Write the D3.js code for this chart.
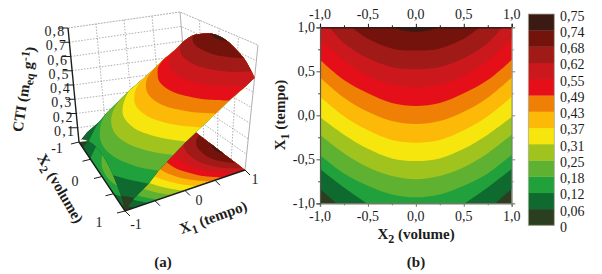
<!DOCTYPE html>
<html>
<head>
<meta charset="utf-8">
<script src="https://cdn.jsdelivr.net/npm/d3@7"></script>
<style>
  html, body { margin: 0; padding: 0; background: #fff; }
  svg { display: block; }
  text { font-family: "Liberation Serif", serif; fill: #1d1d1b; }
  .title { font-weight: bold; font-size: 15px; }
</style>
</head>
<body>
<svg id="chart" width="602" height="274"></svg>
<script>
// Contour bands, lowest to highest
const bandColors = ['#2b3f20', '#0f6a30', '#20a13c', '#5fb132', '#a0c31e', '#f6e60e', '#fdb908',
    '#f07f05', '#e50f19', '#cb181c', '#a01a18', '#74130c', '#3c1a14'];
const legendLabels = ['0,75', '0,74', '0,68', '0,62', '0,55', '0,49', '0,43', '0,37', '0,31', '0,25', '0,18', '0,12', '0,06', '0'];

// Contour lines, left half as [X2, X1]; the picture is symmetric
const levels = [0.06, 0.12, 0.18, 0.25, 0.31, 0.37, 0.43, 0.49, 0.55, 0.62, 0.68, 0.74];
const line006 = [[-1, -0.84], [-0.92, -0.91], [-0.83, -1]];
const line012 = [[-1, -0.61], [-0.75, -0.82], [-0.51, -1]];
const line018 = [[-1, -0.45], [-0.75, -0.66], [-0.5, -0.8], [-0.25, -0.9], [0, -0.932]];
const line025 = [[-1, -0.22], [-0.75, -0.43], [-0.5, -0.59], [-0.25, -0.69], [0, -0.727]];
const line031 = [[-1, -0.02], [-0.75, -0.22], [-0.5, -0.38], [-0.25, -0.49], [0, -0.519]];
const line037 = [[-1, 0.21], [-0.75, -0.01], [-0.5, -0.17], [-0.25, -0.28], [0, -0.311]];
const line043 = [[-1, 0.43], [-0.75, 0.2], [-0.5, 0.04], [-0.25, -0.065], [0, -0.098]];
const line049 = [[-1, 0.63], [-0.75, 0.4], [-0.5, 0.25], [-0.25, 0.14], [0, 0.106]];
const line055 = [[-1, 0.87], [-0.75, 0.62], [-0.5, 0.45], [-0.25, 0.35], [0, 0.318]];
const line062 = [[-0.9, 1], [-0.75, 0.82], [-0.5, 0.65], [-0.25, 0.55], [0, 0.523]];
const line068 = [[-0.67, 1], [-0.5, 0.87], [-0.25, 0.76], [0, 0.735]];
const line074 = [[-0.235, 1], [-0.12, 0.96], [0, 0.947]];
const contourLines = [line006, line012, line018, line025, line031, line037, line043, line049, line055, line062, line068, line074];

// Surface height along the X1 = 1 and X1 = -1 edges, as [X2, value]
const topEdge = [[-1, 0.59], [-0.9, 0.62], [-0.67, 0.68], [-0.235, 0.74], [0, 0.75]];
const bottomEdge = [[-1, 0], [-0.83, 0.06], [-0.51, 0.12], [-0.25, 0.15], [0, 0.16]];

// Ticks
const ticks2d = [-1, -0.5, 0, 0.5, 1];
const ticks2dLabels = ['-1,0', '-0,5', '0,0', '0,5', '1,0'];
const minorTicks2d = [-0.75, -0.25, 0.25, 0.75];
const zTicks = [0.1, 0.2, 0.3, 0.4, 0.5, 0.6, 0.7, 0.8];
const zTickLabels = ['0,1', '0,2', '0,3', '0,4', '0,5', '0,6', '0,7', '0,8'];
const ticks3d = [-1, -0.5, 0, 0.5, 1];

const svg = d3.select('#chart');

// Panel b scales
const x2Scale = d3.scaleLinear().domain([-1, 1]).range([320, 511.7]);
const x1Scale = d3.scaleLinear().domain([-1, 1]).range([203.3, 27.3]);
const legendScale = d3.scaleLinear().domain([0, bandColors.length]).range([225.3, 14]);

// Panel a: box corners in screen space (a = X2 -1 / X1 -1, b = X2 1 / X1 -1, c = X2 1 / X1 1, d = X2 -1 / X1 1)
const floorBox = { a: [79, 142], b: [125, 211], c: [245, 170], d: [190, 128] };
const topBox = { a: [68, 28], b: [123, 81], c: [258, 45], d: [180, 12] };
const unitX2 = d3.scaleLinear().domain([-1, 1]).range([0, 1]);
const unitX1 = d3.scaleLinear().domain([-1, 1]).range([0, 1]);
const unitZ = d3.scaleLinear().domain([0, 0.8]).range([0, 1]);

function project(x2, x1, z) {
    const u = unitX2(x2), v = unitX1(x1), w = unitZ(z);
    return [0, 1].map(k => {
        const low = (1 - v) * ((1 - u) * floorBox.a[k] + u * floorBox.b[k]) + v * ((1 - u) * floorBox.d[k] + u * floorBox.c[k]);
        const high = (1 - v) * ((1 - u) * topBox.a[k] + u * topBox.b[k]) + v * ((1 - u) * topBox.d[k] + u * topBox.c[k]);
        return low + (high - low) * w;
    });
}

const smooth = d3.line().curve(d3.curveCatmullRom.alpha(0.5));
const straight = d3.line();

function mirror(half) {
    const right = half.slice().reverse().filter(p => p[0] !== 0).map(p => [-p[0], ...p.slice(1)]);
    return half.concat(right);
}

// Points where the higher contour lines meet the X2 = -1 edge, going up the edge
function sideEnds(fromIndex) {
    const ends = [];
    for (let j = fromIndex; j < levels.length; j++) {
        const start = contourLines[j][0];
        if (start[0] === -1) ends.push([-1, start[1], levels[j]]);
    }
    return ends;
}

// One region "above level i" as pieces of [X2, X1, z]; i = -1 is the whole surface
function regionPieces(i) {
    const pieces = [];
    const fullTop = mirror(topEdge.map(p => [p[0], 1, p[1]])).reverse();
    const fullBottom = mirror(bottomEdge.map(p => [p[0], -1, p[1]]));
    const rightEnd = p => [-p[0], p[1], p[2]];
    let topSpan = 1;
    let curveEnd;
    if (i < 0) {
        pieces.push({ pts: fullBottom, line: smooth });
        curveEnd = fullBottom[fullBottom.length - 1];
    } else {
        const level = levels[i];
        const half = contourLines[i].map(p => [p[0], p[1], level]);
        const end = half[half.length - 1];
        if (end[1] === -1) {
            // line runs into the bottom edge, goes along it and comes back up on the right
            const span = Math.abs(end[0]);
            pieces.push({ pts: half, line: smooth });
            pieces.push({ pts: fullBottom.filter(p => Math.abs(p[0]) <= span), line: smooth });
            pieces.push({ pts: half.slice().reverse().map(rightEnd), line: smooth });
        } else {
            pieces.push({ pts: mirror(half), line: smooth });
        }
        topSpan = Math.abs(half[0][0]);
        curveEnd = rightEnd(half[0]);
    }
    const ends = sideEnds(i + 1);
    const top = fullTop.filter(p => Math.abs(p[0]) <= topSpan);
    // right side going up, top edge, then left side going down
    if (topSpan === 1) {
        pieces.push({ pts: [curveEnd].concat(ends.map(rightEnd), [top[0]]), line: straight });
    }
    pieces.push({ pts: top, line: smooth });
    if (topSpan === 1) {
        pieces.push({ pts: [top[top.length - 1]].concat(ends.slice().reverse()), line: straight });
    }
    return pieces;
}

function regionPath(i, toScreen) {
    return regionPieces(i)
        .map(piece => piece.line(piece.pts.map(p => toScreen(p[0], p[1], p[2]))))
        .map((d, k) => k === 0 ? d : 'L' + d.slice(1))
        .join('') + 'Z';
}

function drawRegions(group, toScreen) {
    group.selectAll('path')
        .data(bandColors)
        .join('path')
        .attr('d', (c, i) => regionPath(i - 1, toScreen))
        .attr('fill', c => c);
}

// ---------- Panel a ----------
const panelA = svg.append('g');
const wallGrid = panelA.append('g').attr('fill', 'none').attr('stroke', '#8d8d8d').attr('stroke-width', 0.7);

function wallLine(points, dash) {
    wallGrid.append('path')
        .attr('d', d3.line()(points.map(p => project(p[0], p[1], p[2]))))
        .attr('stroke-dasharray', dash);
}

zTicks.forEach(z => wallLine([[-1, -1, z], [-1, 1, z], [1, 1, z]], z === 0.8 ? '2,1' : '1.5,1.5'));
ticks3d.slice(1, -1).forEach(t => {
    wallLine([[-1, t, 0], [-1, t, 0.8]], '1.5,1.5');
    wallLine([[t, 1, 0], [t, 1, 0.8]], '1.5,1.5');
});
wallLine([[-1, 1, 0], [-1, 1, 0.8]], null);
wallLine([[1, 1, 0], [1, 1, 0.8]], null);

drawRegions(panelA.append('g'), (x2, x1) => project(x2, x1, 0));
drawRegions(panelA.append('g'), project);

const axisA = panelA.append('g').attr('stroke', '#1d1d1b').attr('fill', 'none');
axisA.append('path').attr('stroke-width', 1.4)
    .attr('d', d3.line()([project(-1, -1, 0), project(-1, -1, 0.8)]));
axisA.append('path').attr('stroke-width', 1.4)
    .attr('d', d3.line()([project(-1, -1, 0), project(1, -1, 0), project(1, 1, 0)]));

zTicks.forEach((z, i) => {
    const p = project(-1, -1, z);
    axisA.append('line').attr('x1', p[0] - 9).attr('y1', p[1]).attr('x2', p[0]).attr('y2', p[1]).attr('stroke-width', 1);
    panelA.append('text').attr('x', p[0] - 2.5).attr('y', p[1] + 8)
        .attr('text-anchor', 'end').attr('font-size', 14).attr('letter-spacing', 1.2).text(zTickLabels[i]);
});
ticks3d.forEach(t => {
    const onX2 = project(t, -1, 0);
    axisA.append('line').attr('x1', onX2[0]).attr('y1', onX2[1]).attr('x2', onX2[0] - 8).attr('y2', onX2[1] + 2).attr('stroke-width', 1);
    const onX1 = project(1, t, 0);
    axisA.append('line').attr('x1', onX1[0]).attr('y1', onX1[1]).attr('x2', onX1[0] + 5).attr('y2', onX1[1] + 5).attr('stroke-width', 1);
});

function label3d(x, y, text) {
    panelA.append('text').attr('x', x).attr('y', y).attr('text-anchor', 'middle').attr('font-size', 14).text(text);
}
[[57, 153, '-1'], [75, 186, '0'], [99, 227, '1'], [136, 229, '-1'], [199, 205, '0'], [255, 184, '1']]
    .forEach(d => label3d(d[0], d[1], d[2]));

const titleX2 = panelA.append('text').attr('class', 'title')
    .attr('transform', 'translate(56,191) rotate(60)').attr('text-anchor', 'middle').attr('font-size', 16);
titleX2.append('tspan').text('X');
titleX2.append('tspan').attr('dy', 4).attr('font-size', 12).text('2');
titleX2.append('tspan').attr('dy', -4).text(' (volume)');

const titleX1 = panelA.append('text').attr('class', 'title')
    .attr('transform', 'translate(215,222) rotate(-20)').attr('text-anchor', 'middle');
titleX1.append('tspan').text('X');
titleX1.append('tspan').attr('dy', 4).attr('font-size', 12).text('1');
titleX1.append('tspan').attr('dy', -4).text(' (tempo)');

const titleZ = panelA.append('text').attr('class', 'title')
    .attr('transform', 'translate(29,90) rotate(-81)').attr('text-anchor', 'middle');
titleZ.append('tspan').text('CTI (m');
titleZ.append('tspan').attr('dy', 3).attr('font-size', 12).text('eq');
titleZ.append('tspan').attr('dy', -3).text(' g');
titleZ.append('tspan').attr('dy', -5).attr('font-size', 12).text('-1');
titleZ.append('tspan').attr('dy', 5).text(')');

panelA.append('text').attr('class', 'title').attr('x', 163).attr('y', 267).attr('text-anchor', 'middle').text('(a)');

// ---------- Panel b ----------
const panelB = svg.append('g');
drawRegions(panelB.append('g'), (x2, x1) => [x2Scale(x2), x1Scale(x1)]);

function styleAxis(group, color, width) {
    group.selectAll('path.domain').attr('stroke', color).attr('stroke-width', width);
    group.selectAll('line').attr('stroke', color);
    group.selectAll('text').remove();
}

function makeAxis(generator, scale, transform, color, width) {
    const major = panelB.append('g').attr('transform', transform)
        .call(generator(scale).tickValues(ticks2d).tickSize(3.5));
    styleAxis(major, color, width);
    const minor = panelB.append('g').attr('transform', transform)
        .call(generator(scale).tickValues(minorTicks2d).tickSize(2));
    minor.select('path.domain').remove();
    styleAxis(minor, color, width);
}

makeAxis(d3.axisTop, x2Scale, 'translate(0,27.3)', '#1d1d1b', 1.2);
makeAxis(d3.axisBottom, x2Scale, 'translate(0,203.3)', '#77786b', 1.4);
makeAxis(d3.axisLeft, x1Scale, 'translate(320,0)', '#55564c', 1.2);
makeAxis(d3.axisRight, x1Scale, 'translate(511.7,0)', '#8a8b7e', 1);

ticks2d.forEach((t, i) => {
    panelB.append('text').attr('x', x2Scale(t)).attr('y', 19).attr('text-anchor', 'middle').attr('font-size', 14).text(ticks2dLabels[i]);
    panelB.append('text').attr('x', x2Scale(t)).attr('y', 221).attr('text-anchor', 'middle').attr('font-size', 14).text(ticks2dLabels[i]);
    panelB.append('text').attr('x', 315).attr('y', x1Scale(t) + 4.5).attr('text-anchor', 'end').attr('font-size', 14).text(ticks2dLabels[i]);
});

const titleB2 = panelB.append('text').attr('class', 'title').attr('x', 416).attr('y', 239).attr('text-anchor', 'middle');
titleB2.append('tspan').text('X');
titleB2.append('tspan').attr('dy', 4).attr('font-size', 12).text('2');
titleB2.append('tspan').attr('dy', -4).text(' (volume)');

const titleB1 = panelB.append('text').attr('class', 'title')
    .attr('transform', 'translate(285,115) rotate(-90)').attr('text-anchor', 'middle');
titleB1.append('tspan').text('X');
titleB1.append('tspan').attr('dy', 4).attr('font-size', 12).text('1');
titleB1.append('tspan').attr('dy', -4).text(' (tempo)');

panelB.append('text').attr('class', 'title').attr('x', 416).attr('y', 267).attr('text-anchor', 'middle').text('(b)');

// Legend
const legend = panelB.append('g');
legend.selectAll('rect')
    .data(bandColors)
    .join('rect')
    .attr('x', 528.3)
    .attr('width', 26)
    .attr('y', (c, i) => legendScale(i + 1))
    .attr('height', (c, i) => legendScale(i) - legendScale(i + 1) + 0.3)
    .attr('fill', c => c);
legend.append('rect').attr('x', 528.3).attr('y', 14).attr('width', 26).attr('height', 211.3)
    .attr('fill', 'none').attr('stroke', '#a9ad98').attr('stroke-width', 0.8);
legend.selectAll('text')
    .data(legendLabels)
    .join('text')
    .attr('x', 560)
    .attr('y', (d, i) => legendScale(legendLabels.length - 1 - i) + 6.5)
    .attr('font-size', 14)
    .text(d => d);
</script>
</body>
</html>
